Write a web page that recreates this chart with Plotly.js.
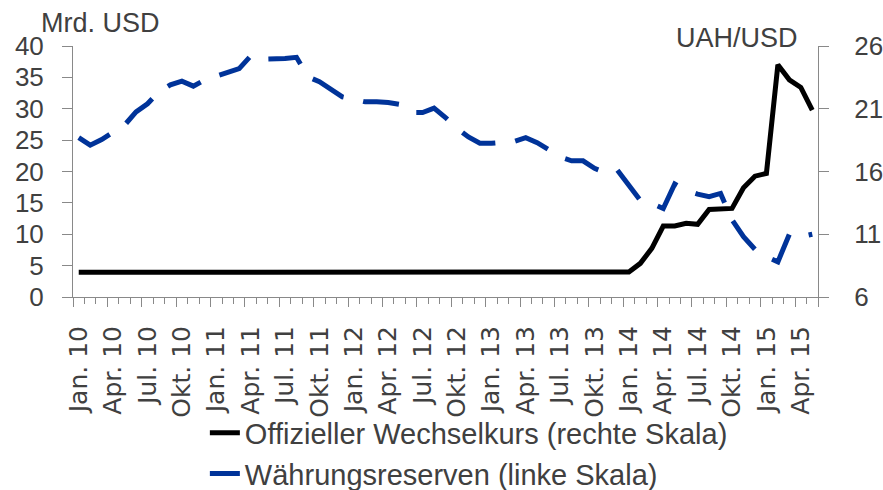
<!DOCTYPE html>
<html>
<head>
<meta charset="utf-8">
<script src="https://cdn.plot.ly/plotly-3.0.1.min.js"></script>
<style>html,body{margin:0;padding:0;background:#fff;}#chart{width:883px;height:490px;}</style>
</head>
<body>
<div id="chart"></div>
<script>
// Monthly data, Jan 2010 – May 2015
const monthIndex = Array.from({length: 65}, (_, i) => i);

const tickLabels = [
  'Jan. 10','Apr. 10','Jul. 10','Okt. 10',
  'Jan. 11','Apr. 11','Jul. 11','Okt. 11',
  'Jan. 12','Apr. 12','Jul. 12','Okt. 12',
  'Jan. 13','Apr. 13','Jul. 13','Okt. 13',
  'Jan. 14','Apr. 14','Jul. 14','Okt. 14',
  'Jan. 15','Apr. 15'
];

// Official exchange rate, UAH/USD (right scale)
const exchangeRate = [
  7.97, 7.97, 7.97, 7.93, 7.92, 7.92, 7.91, 7.91, 7.91, 7.92, 7.92, 7.93,
  7.94, 7.94, 7.94, 7.95, 7.96, 7.96, 7.96, 7.97, 7.97, 7.97, 7.97, 7.97,
  7.98, 7.99, 7.99, 7.99, 7.99, 7.99, 7.99, 7.99, 7.99, 7.99, 7.99, 7.99,
  7.99, 7.99, 7.99, 7.99, 7.99, 7.99, 7.99, 7.99, 7.99, 7.99, 7.99, 7.99,
  7.99, 8.68, 9.88, 11.65, 11.66, 11.87, 11.79, 12.98, 13.06, 13.06, 14.7, 15.63,
  15.85, 24.5, 23.3, 22.7, 20.9
];

// Currency reserves, bn USD (left scale)
const reserves = [
  25.4, 24.2, 25.1, 26.3, 27.4, 29.5, 30.8, 32.7, 33.8, 34.4, 33.6, 34.6,
  35.1, 35.8, 36.4, 38.4, 37.9, 37.9, 38.0, 38.2, 35.1, 34.3, 33.2, 31.9,
  31.5, 31.1, 31.1, 31.0, 30.7, 29.4, 29.4, 30.1, 28.6, 26.9, 25.5, 24.5,
  24.5, 24.7, 24.8, 25.4, 24.6, 23.5, 22.3, 21.7, 21.7, 20.5, 19.8, 20.2,
  17.8, 15.4, 14.9, 14.1, 18.0, 17.0, 16.4, 16.0, 16.5, 12.3, 9.6, 7.6,
  6.4, 5.6, 10.0, 9.6, 10.0
];

const seriesNames = ['Offizieller Wechselkurs (rechte Skala)', 'Währungsreserven (linke Skala)'];

const labelPos = tickLabels.map((_, k) => k * 3);
const boundaryPos = tickLabels.map((_, k) => k * 3 - 0.5).concat([monthIndex.length - 0.5]);
const xRange = [-0.5, monthIndex.length - 0.5];

const txt = '#404040';
const axc = '#898989';
const fontMain = 'Liberation Sans, Arial, sans-serif';

const traces = [
  {
    x: monthIndex, y: exchangeRate, name: seriesNames[0],
    type: 'scatter', mode: 'lines', xaxis: 'x', yaxis: 'y',
    line: {color: '#000000', width: 5}
  },
  {
    x: monthIndex, y: reserves, name: seriesNames[1],
    type: 'scatter', mode: 'lines', xaxis: 'x2', yaxis: 'y2',
    line: {color: '#003399', width: 5, dash: '36px,20px'}
  }
];

const layout = {
  width: 883, height: 490,
  margin: {l: 73, r: 65, t: 46, b: 193, autoexpand: false},
  paper_bgcolor: '#ffffff', plot_bgcolor: '#ffffff',
  showlegend: true,
  legend: {
    orientation: 'v', x: 0.177, xanchor: 'left', y: -0.44, yanchor: 'top',
    font: {family: fontMain, size: 29, color: txt},
    bgcolor: 'rgba(0,0,0,0)', tracegroupgap: 0
  },
  xaxis: {
    range: xRange, showgrid: false, zeroline: false, automargin: false,
    showline: true, linecolor: axc, linewidth: 1,
    tickmode: 'array', tickvals: labelPos, ticktext: tickLabels,
    ticks: '', ticklabelstandoff: 18, tickangle: -90,
    tickfont: {family: 'DejaVu Sans, sans-serif', size: 25, color: txt}
  },
  xaxis2: {
    range: xRange, overlaying: 'x', anchor: 'y2', side: 'bottom',
    showgrid: false, zeroline: false, automargin: false, showline: false,
    tickmode: 'array', tickvals: boundaryPos, showticklabels: false,
    ticks: 'outside', ticklen: 9, tickcolor: axc, tickwidth: 1,
    minor: {tickmode: 'linear', tick0: -0.5, dtick: 1, ticks: 'outside', ticklen: 6, tickcolor: axc, tickwidth: 1, showgrid: false}
  },
  yaxis: {
    range: [6, 26], tickmode: 'linear', tick0: 6, dtick: 5,
    side: 'right', showgrid: false, zeroline: false, automargin: false,
    showline: true, linecolor: axc, linewidth: 1,
    ticks: 'outside', ticklen: 10, tickcolor: axc,
    ticklabelstandoff: 20,
    tickfont: {family: fontMain, size: 26, color: txt}
  },
  yaxis2: {
    range: [0, 40], tickmode: 'linear', tick0: 0, dtick: 5,
    side: 'left', overlaying: 'y', anchor: 'x2', showgrid: false, zeroline: false, automargin: false,
    showline: true, linecolor: axc, linewidth: 1,
    ticks: 'outside', ticklen: 10, tickcolor: axc,
    ticklabelstandoff: 13,
    tickfont: {family: fontMain, size: 26, color: txt}
  },
  annotations: [
    {text: 'Mrd. USD', xref: 'paper', yref: 'paper', x: -0.046, y: 1.09,
     xanchor: 'left', yanchor: 'middle', showarrow: false,
     font: {family: fontMain, size: 27, color: txt}},
    {text: 'UAH/USD', xref: 'paper', yref: 'paper', x: 0.9758, y: 1.031,
     xanchor: 'right', yanchor: 'middle', showarrow: false,
     font: {family: fontMain, size: 27, color: txt}}
  ]
};

Plotly.newPlot('chart', traces, layout, {staticPlot: true, displayModeBar: false});
</script>
</body>
</html>
